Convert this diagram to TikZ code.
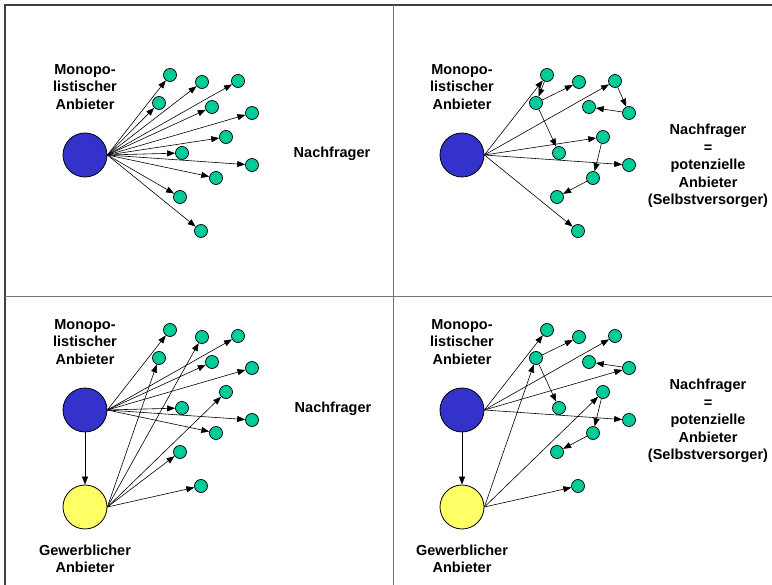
\documentclass[tikz,border=0pt]{standalone}
\usepackage{fontspec}
\setmainfont{Liberation Sans}
\usepackage{tikz}
\usetikzlibrary{arrows.meta,positioning}
\usepackage{xcolor}
\definecolor{monoblue}{RGB}{51,51,204}
\definecolor{gewyellow}{RGB}{255,255,102}
\definecolor{nachgreen}{RGB}{0,204,153}

% the twelve Nachfrager, relative to the monopolist
\newcommand\placedots[1]{%
  \foreach \n/\dx/\dy in {1/85/-80,2/117/-73,3/153/-74,4/74/-52,5/127/-48,6/167/-42,
                          7/141/-18,8/97/-2,9/167/10,10/131/23,11/95/42,12/116/76}
    \node[nachfrager] (#1\n) at (\dx,\dy) {};
}

\begin{document}
\begin{tikzpicture}[x=1pt,y=-1pt,
	  every node/.style={align=center,inner sep=0pt},
	  lbl/.style={font=\bfseries\fontsize{14.5}{17.5}\selectfont},
	  mono/.style={circle,draw=black,line width=0.8pt,fill=monoblue,minimum size=44pt},
	  gewerbe/.style={circle,draw=black,line width=0.8pt,fill=gewyellow,minimum size=44pt},
	  nachfrager/.style={circle,draw=black,line width=0.7pt,fill=nachgreen,minimum size=13pt},
	  to/.style={-{Triangle[length=8pt,width=6pt]},line width=0.6pt,draw=black},
	  frame/.style={draw=black!75,line width=1.2pt},
	  divider/.style={draw=black!55,line width=1.6pt}]

	  \useasboundingbox (0,0) rectangle (772,585);
	  \draw[frame] (5,585) -- (5,5) -- (772,5);
	  \draw[divider] (393.5,5) -- (393.5,585);
	  \draw[divider] (5,296.5) -- (772,296.5);

	  % top left: monopoly only
	  \begin{scope}[shift={(85,155)}]
	    \node[mono] (mono1) at (0,0) {};
	    \node[lbl] at (0,-68) {Monopo-\\listischer\\Anbieter};
	    \node[lbl] at (247,-1) {Nachfrager};
	    \placedots{a}
	  \end{scope}
	  \foreach \n in {1,...,12} \draw[to] (mono1.east) -- (a\n);

	  % top right: Nachfrager supply each other
	  \begin{scope}[shift={(462,155)}]
	    \node[mono] (mono2) at (0,0) {};
	    \node[lbl] at (0,-68) {Monopo-\\listischer\\Anbieter};
	    \node[lbl] at (246,11) {Nachfrager\\=\\potenzielle\\Anbieter\\(Selbstversorger)};
	    \placedots{b}
	  \end{scope}
	  \foreach \n in {1,3,7,9,12} \draw[to] (mono2.east) -- (b\n);
	  \foreach \s/\t in {1/4,4/2,4/8,3/6,6/5,7/10,10/11} \draw[to] (b\s) -- (b\t);

	  % bottom left: commercial supplier
	  \begin{scope}[shift={(85,410)}]
	    \node[mono] (mono3) at (0,0) {};
	    \node[gewerbe] (gew3) at (0,97) {};
	    \node[lbl] at (0,-68) {Monopo-\\listischer\\Anbieter};
	    \node[lbl] at (0,149) {Gewerblicher\\Anbieter};
	    \node[lbl] at (248,-1) {Nachfrager};
	    \placedots{c}
	  \end{scope}
	  \draw[to] (mono3) -- (gew3);
	  \foreach \n in {1,3,5,6,8,9,10} \draw[to] (mono3.east) -- (c\n);
	  \foreach \n in {2,4,7,11,12} \draw[to] (gew3.east) -- (c\n);

	  % bottom right: commercial supplier and Selbstversorger
	  \begin{scope}[shift={(462,410)}]
	    \node[mono] (mono4) at (0,0) {};
	    \node[gewerbe] (gew4) at (0,97) {};
	    \node[lbl] at (0,-68) {Monopo-\\listischer\\Anbieter};
	    \node[lbl] at (0,149) {Gewerblicher\\Anbieter};
	    \node[lbl] at (246,11) {Nachfrager\\=\\potenzielle\\Anbieter\\(Selbstversorger)};
	    \placedots{d}
	  \end{scope}
	  \draw[to] (mono4) -- (gew4);
	  \foreach \n in {1,3,6,9} \draw[to] (mono4.east) -- (d\n);
	  \foreach \n in {4,7,12} \draw[to] (gew4.east) -- (d\n);
	  \foreach \s/\t in {4/2,4/8,6/5,7/10,10/11} \draw[to] (d\s) -- (d\t);
\end{tikzpicture}
\end{document}
